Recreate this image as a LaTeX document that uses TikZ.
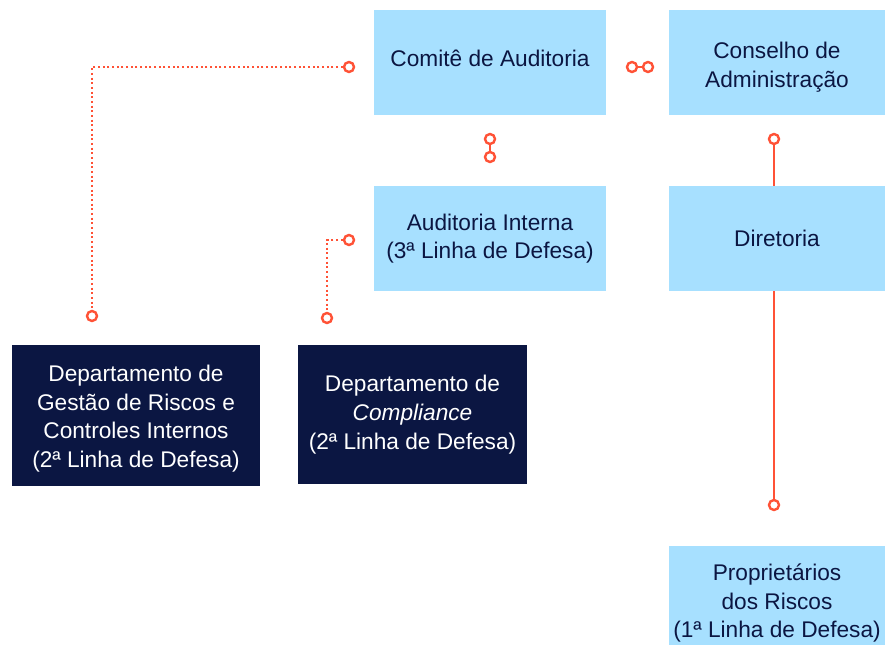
\documentclass[tikz,border=0pt]{standalone}
\usepackage{fontspec}
\setmainfont{Liberation Sans}
\usetikzlibrary{positioning, shapes, arrows.meta, calc}

\definecolor{skyblue}{HTML}{A7E0FF}
\definecolor{navy}{HTML}{0B1642}
\definecolor{coral}{HTML}{FF5236}

\begin{document}
\begin{tikzpicture}[
    x=0.75pt, y=-0.75pt,
    % Styles
    box/.style={ % Organisation unit
        rectangle,
        inner sep=0pt,
        align=center,
        font=\fontsize{17}{21.5}\selectfont
    },
    lightbox/.style={ % Light blue unit
        box,
        fill=skyblue,
        text=navy,
        minimum width=162pt,
        minimum height=78.75pt
    },
    darkbox/.style={ % Dark unit (2nd line of defence)
        box,
        fill=navy,
        text=white
    },
    link/.style={ % Little ring at a connector end
        circle,
        draw=coral,
        fill=white,
        line width=1.8pt,
        inner sep=0pt,
        minimum size=7.5pt
    },
    solidline/.style={ % Reporting line
        draw=coral,
        line width=2pt
    },
    dottedline/.style={ % Functional line
        draw=coral,
        line width=1.7pt,
        dash pattern=on 1.5pt off 2pt
    }
]

    \useasboundingbox (0,0) rectangle (885,645);

    % Governance units
    \node [lightbox, minimum width=174pt] (comite) at (490,62.5) {Comitê de Auditoria\\[-14.7pt]};
    \node [lightbox] (conselho) at (777,62.5) {\\[-2.6pt]Conselho de\\Administração};
    \node [lightbox, minimum width=174pt] (auditoria) at (490,238.5) {Auditoria Interna\\(3ª Linha de Defesa)};
    \node [lightbox] (diretoria) at (777,238.5) {Diretoria};
    \node [lightbox, minimum height=74.25pt] (proprietarios) at (777,595.5) {\\[2.5pt]Proprietários\\dos Riscos\\(1ª Linha de Defesa)};

    % Second line of defence
    \node [darkbox, minimum width=186pt, minimum height=105.75pt] (gestao) at (136,415.5)
        {\\[-4.7pt]Departamento de\\Gestão de Riscos e\\Controles Internos\\(2ª Linha de Defesa)};
    \node [darkbox, minimum width=171.75pt, minimum height=104.25pt] (compliance) at (412.5,414.5)
        {Departamento de\\\textit{Compliance}\\(2ª Linha de Defesa)};

    % Rings
    \node [link] (ca) at (632,67) {};
    \node [link] (cb) at (648,67) {};
    \node [link] (cc) at (490,139) {};
    \node [link] (cd) at (490,157) {};
    \node [link] (ce) at (774,139) {};
    \node [link] (cf) at (774,505) {};
    \node [link] (cg) at (349,67) {};
    \node [link] (ch) at (92,316) {};
    \node [link] (ci) at (349,240) {};
    \node [link] (cj) at (327,318) {};

    % Solid lines
    \draw [solidline] (ca) -- (cb);
    \draw [solidline] (cc) -- (cd);
    \draw [solidline] (ce) -- (ce |- diretoria.north);
    \draw [solidline] (cf |- diretoria.south) -- (cf);

    % Dotted lines
    \draw [dottedline] (cg) -| (ch);
    \draw [dottedline] (ci) -| (cj);
\end{tikzpicture}
\end{document}
